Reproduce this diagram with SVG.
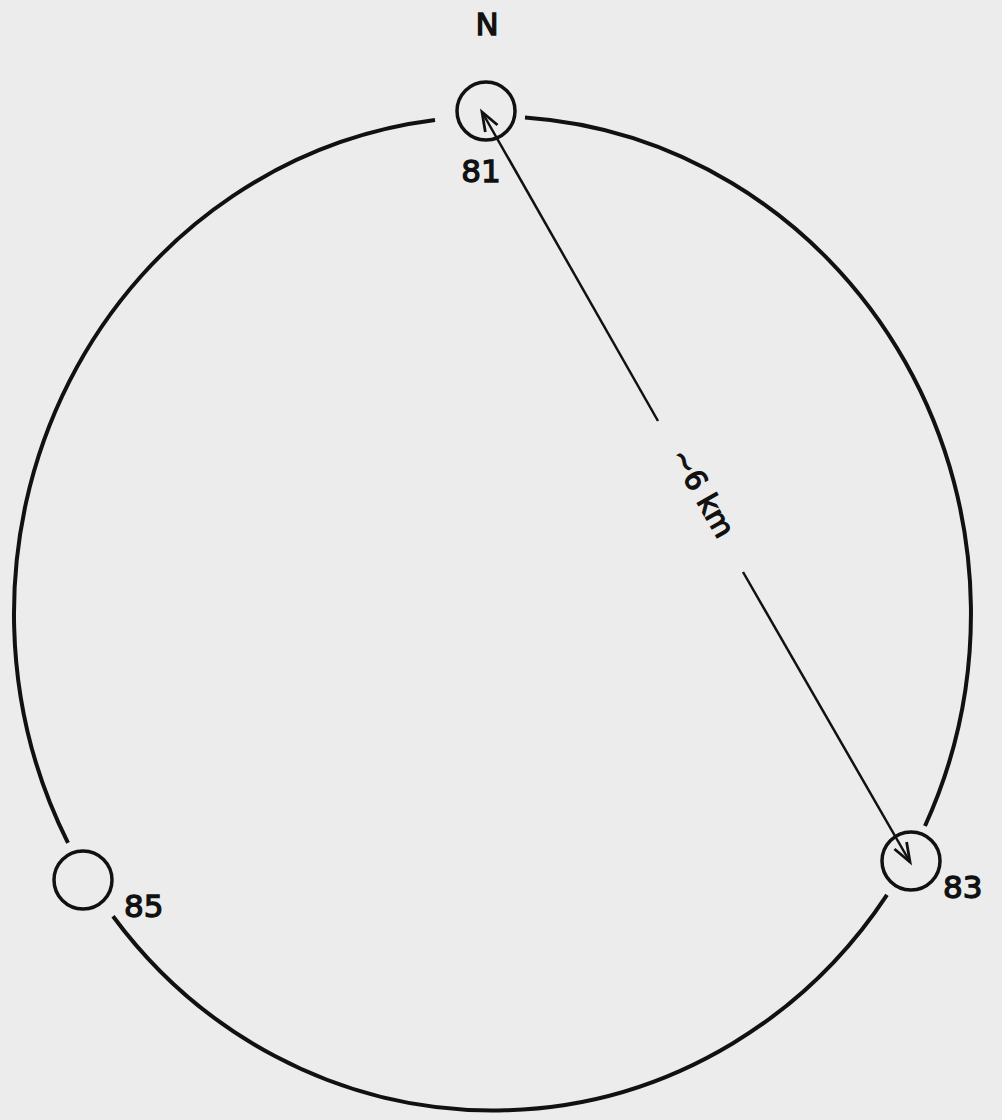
<svg xmlns="http://www.w3.org/2000/svg" width="1002" height="1120" viewBox="0 0 1002 1120">
<style>
.ring{fill:none;stroke:#111;stroke-width:4;stroke-linecap:butt}
.stn{fill:none;stroke:#111;stroke-width:3.5}
.lbl{font-family:"DejaVu Sans","Liberation Sans",Arial,sans-serif;font-size:31px;fill:#111;stroke:#111;stroke-width:1.3}
.arr{fill:none;stroke:#111;stroke-width:2.5}
</style>
<defs>
<marker id="ah" markerUnits="userSpaceOnUse" markerWidth="30" markerHeight="30" viewBox="-25 -15 30 30" refX="0" refY="0" orient="auto-start-reverse">
<path d="M-19,-7 L0,0 L-19,7" fill="none" stroke="#111" stroke-width="2.8"/>
</marker>
</defs>
<rect width="1002" height="1120" fill="#ececec"/>
<g id="connectors">
<path class="ring" d="M525,117.6 A478.5,497 0 0 1 925,826"/>
<path class="ring" d="M887,894.8 A478.5,497 0 0 1 113,916.2"/>
<path class="ring" d="M68,842.9 A478.5,497 0 0 1 435,120.1"/>
<line class="arr" x1="482" y1="112" x2="658" y2="421" marker-start="url(#ah)"/>
<line class="arr" x1="743" y1="572" x2="910" y2="862" marker-end="url(#ah)"/>
<text class="lbl" x="0" y="0" text-anchor="middle" transform="translate(703,493) rotate(60.3)" dy="10" style="font-size:29px">~6 km</text>
</g>
<g id="north"><text class="lbl" x="487" y="35" text-anchor="middle">N</text></g>
<g id="station81">
<circle class="stn" cx="486" cy="111" r="29"/>
<text class="lbl" x="481" y="182" text-anchor="middle">81</text>
</g>
<g id="station83">
<circle class="stn" cx="911" cy="861" r="29"/>
<text class="lbl" x="943" y="898">83</text>
</g>
<g id="station85">
<circle class="stn" cx="83" cy="880" r="29"/>
<text class="lbl" x="124" y="917">85</text>
</g>
</svg>
